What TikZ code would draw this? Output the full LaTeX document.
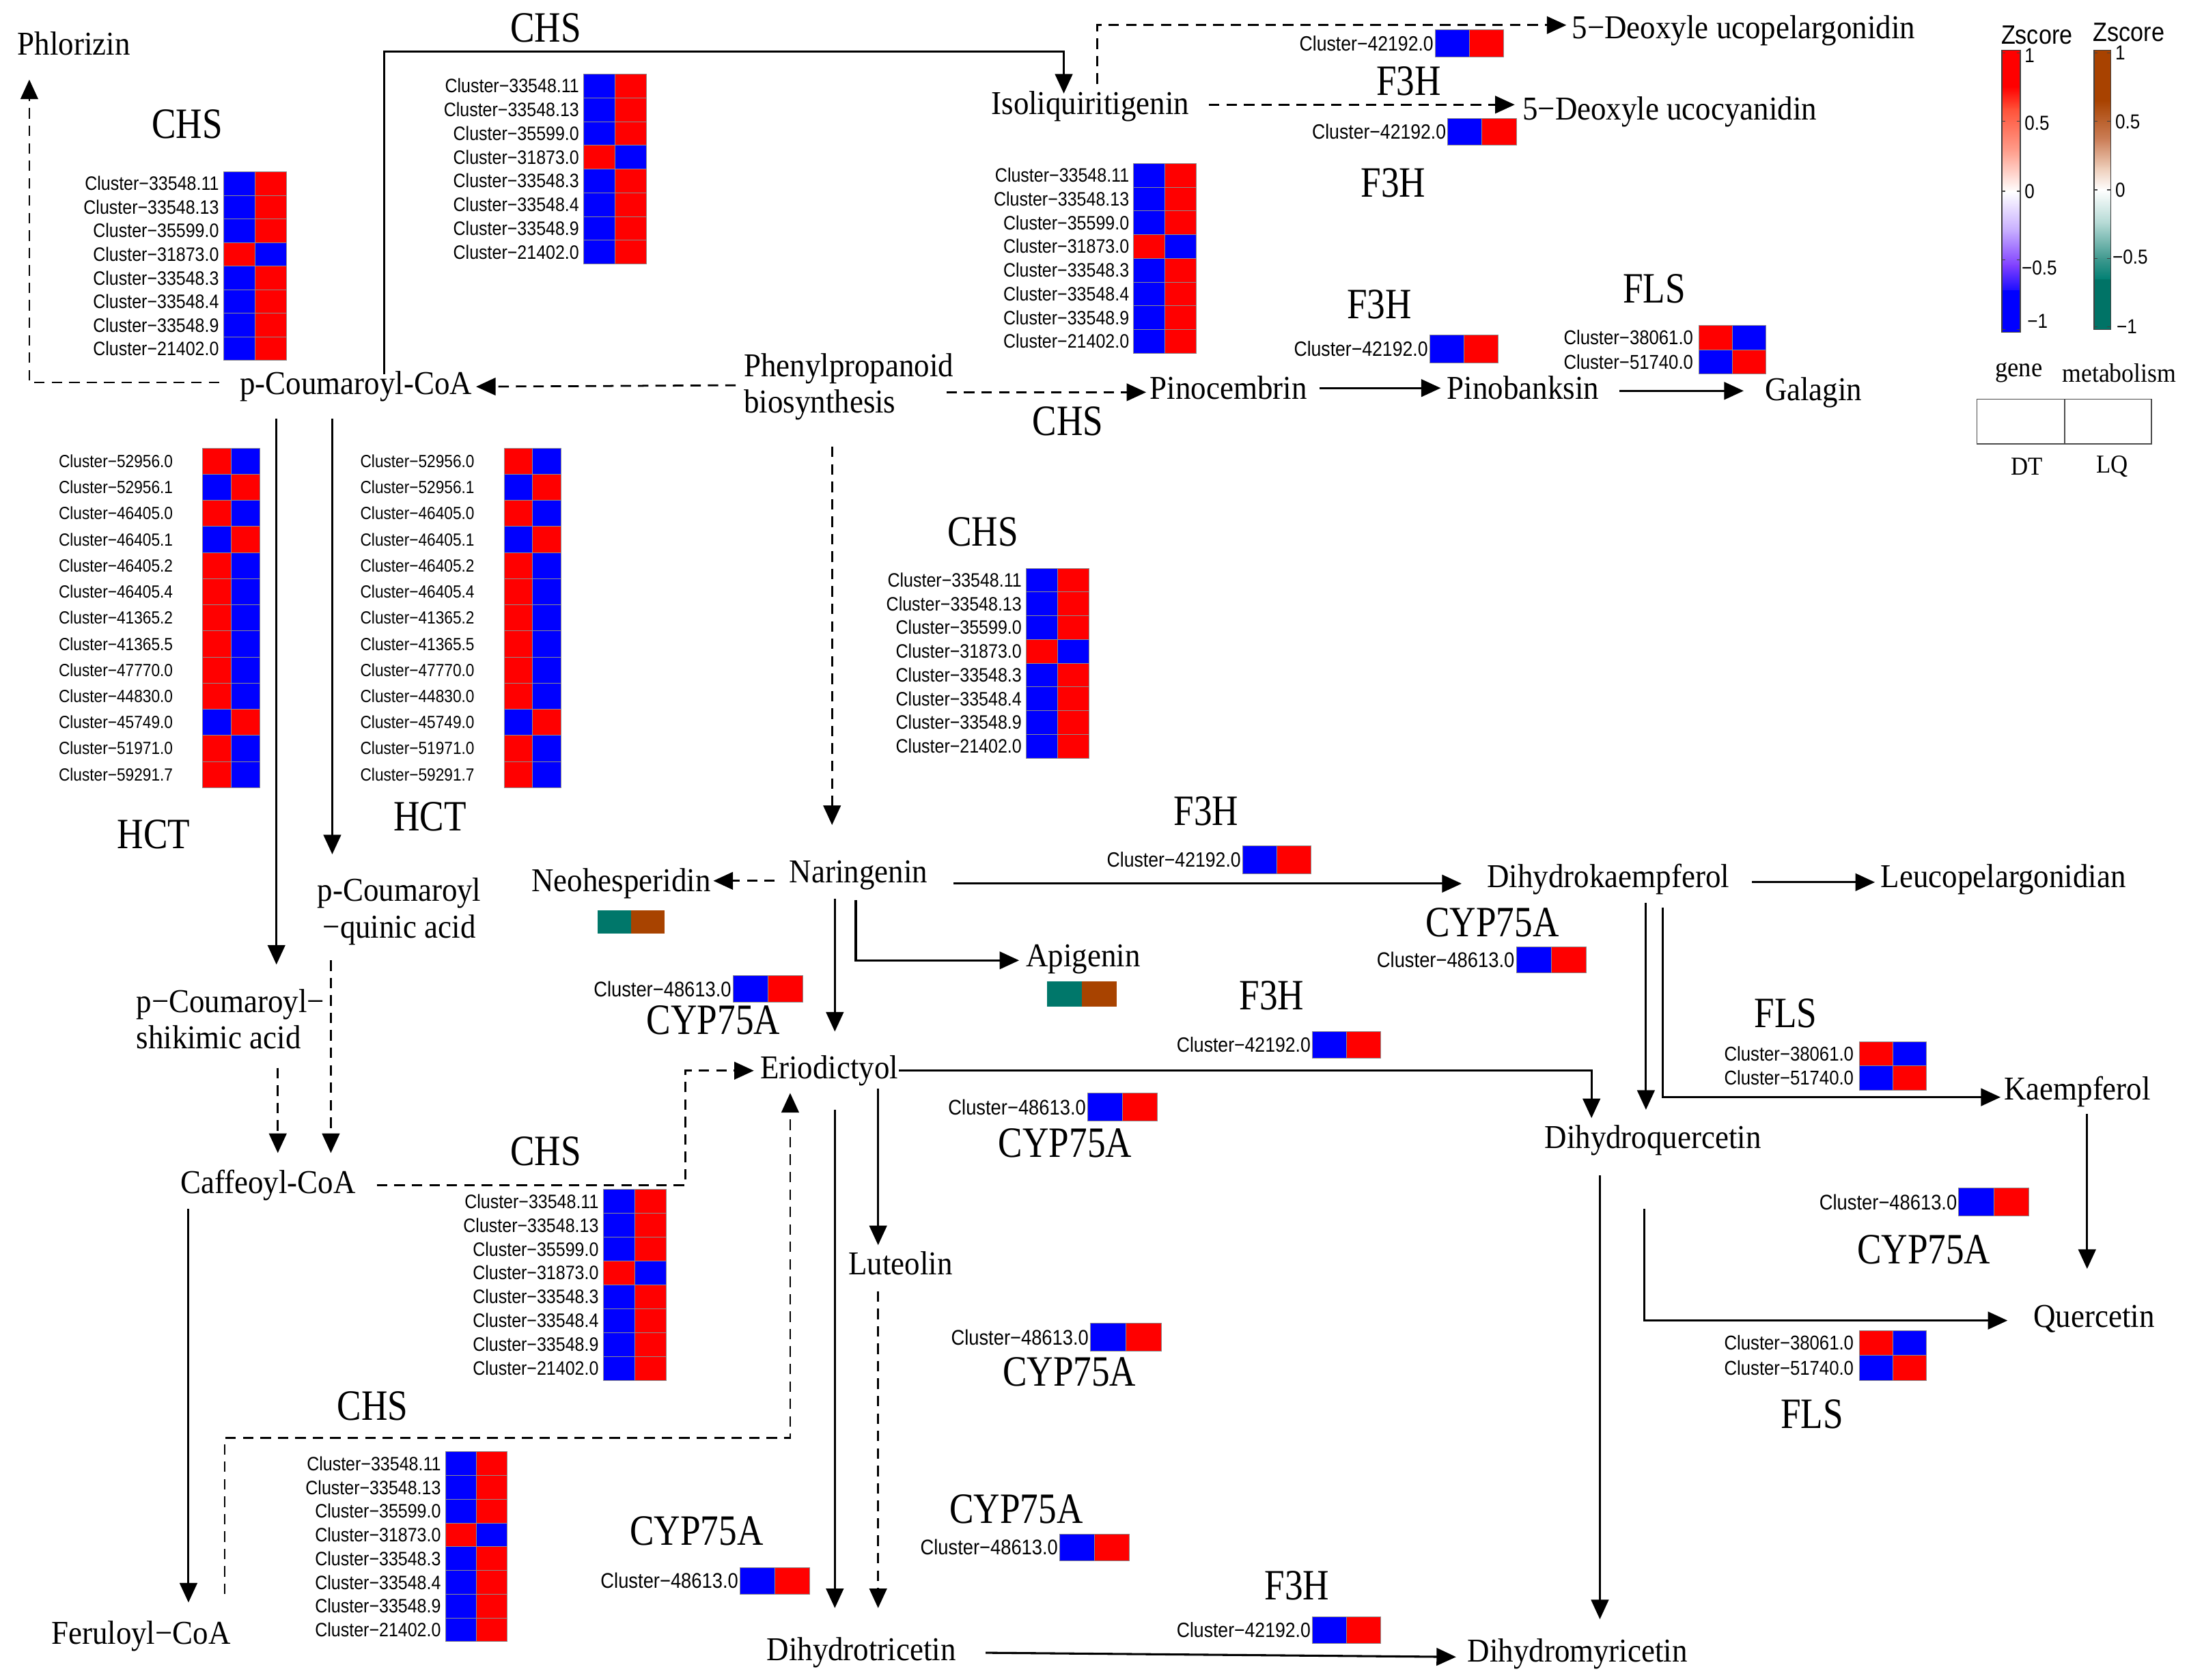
\documentclass[tikz,border=0pt]{standalone}
\usepackage{fontspec}
\setmainfont{Liberation Serif}
\setsansfont{Liberation Sans}
\newfontfamily\metfont[FakeStretch=0.92]{Liberation Serif}
\newfontfamily\enzfont[FakeStretch=0.84]{Liberation Serif}
\newfontfamily\clfont[FakeStretch=0.88]{Liberation Sans}
\usetikzlibrary{arrows.meta,calc}

\definecolor{hr}{rgb}{1,0,0}
\definecolor{hb}{rgb}{0,0,1}
\definecolor{mteal}{HTML}{00776A}
\definecolor{mbrown}{HTML}{A84300}
\definecolor{gA}{rgb}{1,0.32,0.22}
\definecolor{gB}{rgb}{1,0.62,0.55}
\definecolor{gC}{rgb}{0.78,0.68,1}
\definecolor{gD}{rgb}{0.5,0.25,1}
\definecolor{gE}{rgb}{0.1,0.05,1}
\definecolor{mA}{rgb}{0.66,0.26,0}
\definecolor{mB}{rgb}{0.8,0.5,0.35}
\definecolor{mC}{rgb}{0.93,0.8,0.72}
\definecolor{mD}{rgb}{0.7,0.85,0.83}
\definecolor{mE}{rgb}{0.25,0.6,0.56}
\definecolor{mF}{rgb}{0,0.5,0.45}
\definecolor{mG}{rgb}{0,0.45,0.4}

\tikzset{
  met/.style={inner sep=0pt, font=\metfont\fontsize{23.9}{26}\selectfont},
  enz/.style={inner sep=0pt, font=\enzfont\fontsize{31}{32}\selectfont},
  arr/.style={line width=1.5pt, -{Triangle[length=14pt,width=12.5pt]}},
  darr/.style={arr, line width=1.35pt, dash pattern=on 7.5pt off 5pt},
  cell/.style={draw=black!45, line width=0.3pt},
  leg/.style={inner sep=0pt, font=\clfont\fontsize{14.5}{14.5}\selectfont},
}

\newcommand{\hmap}[8]{%
  \foreach \lab/\ca/\cb [count=\i from 0] in #8 {%
    \filldraw[cell, fill=\ca] (#2,{#3+\i*#5}) rectangle ({#2+#4/2},{#3+(\i+1)*#5});
    \filldraw[cell, fill=\cb] ({#2+#4/2},{#3+\i*#5}) rectangle ({#2+#4},{#3+(\i+1)*#5});
    \node[anchor=east, inner sep=0pt, font=\clfont\fontsize{#6}{#6}\selectfont] (#1-\i) at ({#2-#7},{#3+(\i+0.5)*#5}) {\lab};
  }%
}
\newcommand{\chsList}{Cluster−33548.11/hb/hr,Cluster−33548.13/hb/hr,Cluster−35599.0/hb/hr,Cluster−31873.0/hr/hb,Cluster−33548.3/hb/hr,Cluster−33548.4/hb/hr,Cluster−33548.9/hb/hr,Cluster−21402.0/hb/hr}
\newcommand{\hctList}{Cluster−52956.0/hr/hb,Cluster−52956.1/hb/hr,Cluster−46405.0/hr/hb,Cluster−46405.1/hb/hr,Cluster−46405.2/hr/hb,Cluster−46405.4/hr/hb,Cluster−41365.2/hr/hb,Cluster−41365.5/hr/hb,Cluster−47770.0/hr/hb,Cluster−44830.0/hr/hb,Cluster−45749.0/hb/hr,Cluster−51971.0/hr/hb,Cluster−59291.7/hr/hb}
\newcommand{\flsList}{Cluster−38061.0/hr/hb,Cluster−51740.0/hb/hr}
\newcommand{\fthList}{Cluster−42192.0/hb/hr}
\newcommand{\cypList}{Cluster−48613.0/hb/hr}

\begin{document}
\begin{tikzpicture}[x=1pt,y=-1pt]
\useasboundingbox (0,0) rectangle (1568,1203.5);

% ---------- metabolites ----------
\node[met] (phl) at (53,31) {Phlorizin};
\node[met] (iso) at (781,76) {Isoliquiritigenin};
\node[met] (dup) at (1249,22) {5−Deoxyle ucopelargonidin};
\node[met] (duc) at (1196,80) {5−Deoxyle ucocyanidin};
\node[met, align=left] (phen) at (608,277) {Phenylpropanoid\\biosynthesis};
\node[met] (pcoa) at (255,277) {p-Coumaroyl-CoA};
\node[met] (pino) at (880,278) {Pinocembrin};
\node[met] (pinob) at (1091,278) {Pinobanksin};
\node[met] (gal) at (1299,281) {Galagin};
\node[met] (nar) at (615,627) {Naringenin};
\node[met] (neo) at (445,633) {Neohesperidin};
\node[met] (dhk) at (1152,630) {Dihydrokaempferol};
\node[met] (leu) at (1435,630) {Leucopelargonidian};
\node[met, align=center] (pcq) at (286,653) {p-Coumaroyl\\−quinic acid};
\node[met] (api) at (776,687) {Apigenin};
\node[met, align=left] (pcs) at (165,730) {p−Coumaroyl−\\shikimic acid};
\node[met] (eri) at (594,767) {Eriodictyol};
\node[met] (kae) at (1488,782) {Kaempferol};
\node[met] (dhq) at (1184,817) {Dihydroquercetin};
\node[met] (caf) at (192,849) {Caffeoyl-CoA};
\node[met] (lut) at (645,905) {Luteolin};
\node[met] (que) at (1500,945) {Quercetin};
\node[met] (fer) at (101,1172) {Feruloyl−CoA};
\node[met] (dht) at (617,1184) {Dihydrotricetin};
\node[met] (dhm) at (1130,1185) {Dihydromyricetin};

% ---------- enzymes ----------
\node[enz] (chsA) at (391,20) {CHS};
\node[enz] (chsB) at (134,89) {CHS};
\node[enz] (f3hA) at (1009,58) {F3H};
\node[enz] (f3hB) at (998,131) {F3H};
\node[enz] (chsC) at (765,302) {CHS};
\node[enz] (f3hC) at (988,218) {F3H};
\node[enz] (flsA) at (1185,207) {FLS};
\node[enz] (chsD) at (704,381) {CHS};
\node[enz] (hctA) at (110,598) {HCT};
\node[enz] (hctB) at (308,585) {HCT};
\node[enz] (f3hD) at (864,581) {F3H};
\node[enz] (cypA) at (1069,661) {CYP75A};
\node[enz] (f3hE) at (911,713) {F3H};
\node[enz] (flsB) at (1279,726) {FLS};
\node[enz] (cypB) at (511,731) {CYP75A};
\node[enz] (cypC) at (763,819) {CYP75A};
\node[enz] (chsE) at (391,825) {CHS};
\node[enz] (cypD) at (1378,895) {CYP75A};
\node[enz] (cypE) at (766,983) {CYP75A};
\node[enz] (chsF) at (267,1007) {CHS};
\node[enz] (flsC) at (1298,1013) {FLS};
\node[enz] (cypF) at (728,1081) {CYP75A};
\node[enz] (cypG) at (499,1097) {CYP75A};
\node[enz] (f3hF) at (929,1136) {F3H};

% ---------- heatmaps ----------
\hmap{hmA}{160}{123}{45}{16.9}{13.9}{3}{\chsList}
\hmap{hmB}{418}{53}{45}{17.0}{13.9}{3}{\chsList}
\hmap{hmC}{812}{117}{45}{17.0}{13.9}{3}{\chsList}
\hmap{hmD}{735}{407}{45}{17.0}{13.9}{3}{\chsList}
\hmap{hmE}{432}{852}{45}{17.1}{13.9}{3}{\chsList}
\hmap{hmF}{319}{1040}{44}{17.0}{13.9}{3}{\chsList}
\hmap{hctL}{145}{321}{41}{18.7}{12.6}{21}{\hctList}
\hmap{hctR}{361}{321}{41}{18.7}{12.6}{21}{\hctList}
\hmap{sA}{1028}{21}{49}{20}{14.8}{1}{\fthList}
\hmap{sB}{1037}{85}{49}{19}{14.8}{1}{\fthList}
\hmap{sC}{1024}{240}{49}{20}{14.8}{1}{\fthList}
\hmap{sD}{890}{606}{49}{20}{14.8}{1}{\fthList}
\hmap{sE}{940}{739}{49}{19}{14.8}{1}{\fthList}
\hmap{sF}{940}{1158}{49}{19}{14.8}{1}{\fthList}
\hmap{flA}{1217}{233}{48}{17.5}{14.3}{4}{\flsList}
\hmap{flB}{1332}{746}{48}{17.5}{14.3}{4}{\flsList}
\hmap{flC}{1332}{953}{48}{18}{14.3}{4}{\flsList}
\hmap{cA}{1086}{678}{50}{19}{15.2}{1}{\cypList}
\hmap{cB}{525}{699}{50}{19}{15.2}{1}{\cypList}
\hmap{cC}{779}{783}{50}{20}{15.2}{1}{\cypList}
\hmap{cD}{1403}{851}{50}{20}{15.2}{1}{\cypList}
\hmap{cE}{781}{948}{51}{20}{15.2}{1}{\cypList}
\hmap{cF}{759}{1099}{50}{19}{15.2}{1}{\cypList}
\hmap{cG}{530}{1123}{50}{19}{15.2}{1}{\cypList}
% metabolite heatmaps
\fill[mteal] (428,652) rectangle (452,669);
\fill[mbrown] (452,652) rectangle (476,669);
\fill[mteal] (750,703) rectangle (775,721);
\fill[mbrown] (775,703) rectangle (800,721);

% ---------- connectors ----------
\draw[darr] ($(pcoa)+(-98,-3)$) -| ($(phl)+(-32,26)$);
\draw[arr] ($(pcoa)+(20,-9)$) -- ++(0,-231) -| ($(iso)+(-19,-9)$);
\draw[darr] ($(phen)+(-81,-1)$) -- ($(pcoa)+(86,0)$);
\draw[darr] ($(phen)+(70,4)$) -- ($(pino)+(-59,3)$);
\draw[darr] ($(phen)+(-12,43)$) -- ($(nar)+(-19,-36)$);
\draw[darr] ($(iso)+(85,-1)$) -- ($(duc)+(-111,-5)$);
\draw[darr] ($(iso)+(5,-16)$) |- ($(dup)+(-127,-4)$);
\draw[arr] ($(pino)+(65,0)$) -- ($(pinob)+(-59,0)$);
\draw[arr] ($(pinob)+(69,2)$) -- ($(gal)+(-50,-1)$);
\draw[arr] ($(pcoa)+(-57,23)$) -- ($(pcs)+(33,-39)$);
\draw[arr] ($(pcoa)+(-17,23)$) -- ($(pcq)+(-48,-41)$);
\draw[darr] ($(pcs)+(34,35)$) -- ($(caf)+(7,-23)$);
\draw[darr] ($(pcq)+(-49,35)$) -- ($(caf)+(45,-23)$);
\draw[darr] ($(caf)+(78,0)$) -| ($(eri)+(-103,0)$) -- ($(eri)+(-54,0)$);
\draw[arr] ($(caf)+(-57,17)$) -- ($(fer)+(34,-24)$);
\draw[darr] ($(fer)+(60,-30)$) |- ($(eri)+(-28,263)$) -- ($(eri)+(-28,16)$);
\draw[darr] ($(nar)+(-60,4)$) -- ($(neo)+(66,-2)$);
\draw[arr] ($(nar)+(68,6)$) -- ($(dhk)+(-105,3)$);
\draw[arr] ($(nar)+(-2,18)$) |- ($(api)+(-46,1)$);
\draw[arr] ($(nar)+(-17,17)$) -- ($(eri)+(4,-28)$);
\draw[arr] ($(eri)+(50,0)$) -| ($(dhq)+(-44,-16)$);
\draw[arr] ($(eri)+(35,13)$) -- ($(lut)+(-16,-13)$);
\draw[arr] ($(eri)+(4,28)$) -- ($(dht)+(-19,-32)$);
\draw[darr] ($(lut)+(-16,20)$) -- ($(dht)+(12,-32)$);
\draw[arr] ($(dht)+(89,0)$) -- ($(dhm)+(-87,2)$);
\draw[arr] ($(dhk)+(103,2)$) -- ($(leu)+(-92,2)$);
\draw[arr] ($(dhk)+(27,17)$) -- ($(dhq)+(-5,-22)$);
\draw[arr] ($(dhk)+(39,20)$) |- ($(kae)+(-55,4)$);
\draw[arr] ($(kae)+(7,16)$) -- ($(que)+(-5,-36)$);
\draw[arr] ($(dhq)+(-6,49)$) |- ($(que)+(-62,1)$);
\draw[arr] ($(dhq)+(-38,25)$) -- ($(dhm)+(16,-25)$);

% ---------- legend ----------
\node[inner sep=0pt, font=\clfont\fontsize{19}{19}\selectfont] (zsA) at (1459,25) {Zscore};
\node[inner sep=0pt, font=\clfont\fontsize{19}{19}\selectfont] (zsB) at (1525,23) {Zscore};
% gene bar
\fill[hr] (1434,36) rectangle (1447,62.5);
\shade[top color=hr, bottom color=gA] (1434,62) rectangle (1447,78.5);
\shade[top color=gA, bottom color=gB] (1434,78) rectangle (1447,108.5);
\shade[top color=gB, bottom color=white] (1434,108) rectangle (1447,137.5);
\shade[top color=white, bottom color=gC] (1434,137) rectangle (1447,165.5);
\shade[top color=gC, bottom color=gD] (1434,165) rectangle (1447,190.5);
\shade[top color=gD, bottom color=gE] (1434,190) rectangle (1447,208.5);
\fill[hb] (1434,208) rectangle (1447,238);
\draw[black!75, line width=0.8pt] (1434,36) rectangle (1447,238);
\foreach \t in {38,87,137,186,236} {\draw[black!75, line width=0.6pt] (1434,\t) -- (1436.5,\t) (1444.5,\t) -- (1447,\t);}
% metabolism bar
\fill[mA] (1500,36) rectangle (1512,72.5);
\shade[top color=mA, bottom color=mB] (1500,72) rectangle (1512,100.5);
\shade[top color=mB, bottom color=mC] (1500,100) rectangle (1512,120.5);
\shade[top color=mC, bottom color=white] (1500,120) rectangle (1512,136.5);
\shade[top color=white, bottom color=mD] (1500,136) rectangle (1512,160.5);
\shade[top color=mD, bottom color=mE] (1500,160) rectangle (1512,185.5);
\shade[top color=mE, bottom color=mF] (1500,185) rectangle (1512,200.5);
\fill[mG] (1500,200) rectangle (1512,236);
\draw[black!75, line width=0.8pt] (1500,36) rectangle (1512,236);
\foreach \t in {38,87,136,185,234} {\draw[black!75, line width=0.6pt] (1500,\t) -- (1502.5,\t) (1509.5,\t) -- (1512,\t);}
% tick labels
\node[leg, anchor=west] (gt1) at (1450,40) {1};
\node[leg, anchor=west] (gt2) at (1450,88) {0.5};
\node[leg, anchor=west] (gt3) at (1450,137) {0};
\node[leg, anchor=west] (gt4) at (1448,192) {−0.5};
\node[leg, anchor=west] (gt5) at (1452,230) {−1};
\node[leg, anchor=west] (mt1) at (1515,38) {1};
\node[leg, anchor=west] (mt2) at (1515,87) {0.5};
\node[leg, anchor=west] (mt3) at (1515,136) {0};
\node[leg, anchor=west] (mt4) at (1513,184) {−0.5};
\node[leg, anchor=west] (mt5) at (1516,234) {−1};
\node[inner sep=0pt, font=\metfont\fontsize{19.5}{20}\selectfont] (lgene) at (1446,267) {gene};
\node[inner sep=0pt, font=\metfont\fontsize{19}{20}\selectfont] (lmet) at (1518,267) {metabolism};
\draw[black!70, line width=0.8pt] (1416,286) rectangle (1541,318);
\draw[black!70, line width=0.8pt] (1479,286) -- (1479,318);
\node[inner sep=0pt, font=\metfont\fontsize{18.5}{20}\selectfont] (ldt) at (1452,334) {DT};
\node[inner sep=0pt, font=\metfont\fontsize{18.5}{20}\selectfont] (llq) at (1513,334) {LQ};
\end{tikzpicture}
\end{document}
